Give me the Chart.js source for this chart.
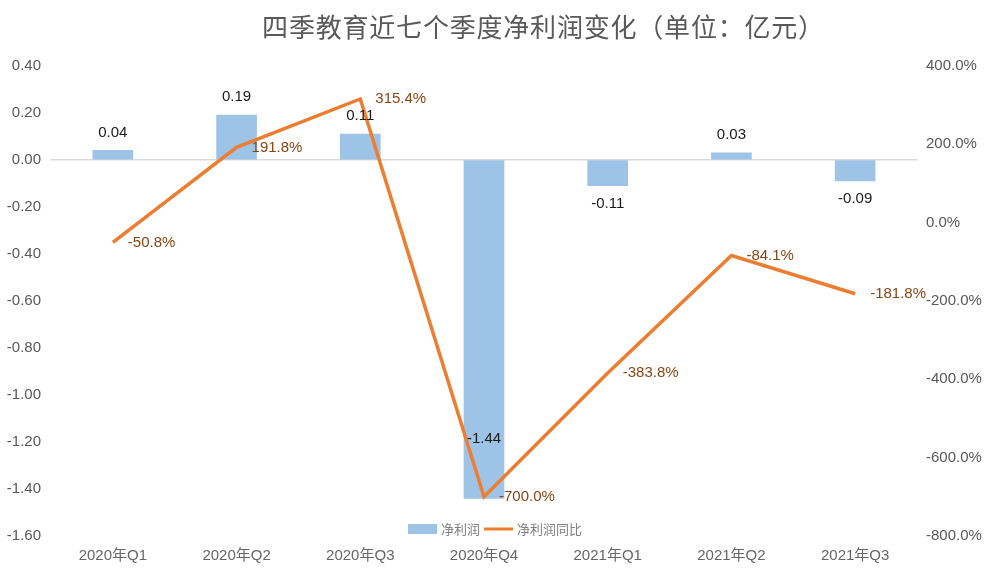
<!DOCTYPE html>
<html>
<head>
<meta charset="utf-8">
<script src="https://cdn.jsdelivr.net/npm/chart.js@4.4.0/dist/chart.umd.min.js"></script>
<style>
  html, body { margin: 0; padding: 0; background: #fff; }
  #wrap { width: 995px; height: 582px; position: relative; }
</style>
</head>
<body>
<div id="wrap"><canvas id="profit-chart"></canvas></div>
<script>
// data
const quarters = ["2020年Q1", "2020年Q2", "2020年Q3", "2020年Q4", "2021年Q1", "2021年Q2", "2021年Q3"];
const netProfit = [0.04, 0.19, 0.11, -1.44, -0.11, 0.03, -0.09];
const yoyGrowth = [-50.8, 191.8, 315.4, -700.0, -383.8, -84.1, -181.8];
const profitTicks = [0.4, 0.2, 0, -0.2, -0.4, -0.6, -0.8, -1.0, -1.2, -1.4, -1.6];
const growthTicks = [400, 200, 0, -200, -400, -600, -800];
const chartTitle = '四季教育近七个季度净利润变化（单位：亿元）';

const latinFont = "'Liberation Sans', Arial, 'Noto Sans CJK SC', sans-serif";
const cjkFont = "'Noto Sans CJK SC', sans-serif";

// title sits a bit right of the canvas centre in the original
const titlePlugin = {
    id: 'offsetTitle',
    afterDraw(chart) {
        const ctx = chart.ctx;
        ctx.save();
        ctx.font = "26px " + cjkFont;
        ctx.letterSpacing = '0.8px';
        ctx.fillStyle = '#595959';
        ctx.textAlign = 'center';
        ctx.textBaseline = 'middle';
        ctx.fillText(chartTitle, chart.width / 2 + 46, 27);
        ctx.restore();
    }
};

// value labels for bars and line points
const labelPlugin = {
    id: 'valueLabels',
    afterDatasetsDraw(chart) {
        const ctx = chart.ctx;
        ctx.save();
        ctx.font = "15px " + latinFont;
        ctx.textBaseline = 'middle';

        // bar labels
        const bars = chart.getDatasetMeta(1).data;
        ctx.fillStyle = '#1a1a1a';
        ctx.textAlign = 'center';
        bars.forEach((bar, i) => {
            const v = netProfit[i];
            let y;
            if (v >= 0) {
                y = bar.y - 18;
            } else if (Math.abs(bar.y - bar.base) > 200) {
                y = bar.y - 60; // long bar: label sits inside
            } else {
                y = bar.y + 18;
            }
            ctx.fillText(v.toFixed(2), bar.x, y);
        });

        // line labels
        const pts = chart.getDatasetMeta(0).data;
        ctx.fillStyle = '#8B4513';
        ctx.textAlign = 'left';
        pts.forEach((p, i) => {
            ctx.fillText(yoyGrowth[i].toFixed(1) + '%', p.x + 15, p.y);
        });
        ctx.restore();
    }
};

// legend drawn inside the plot, near the bottom
const legendPlugin = {
    id: 'innerLegend',
    afterDraw(chart) {
        const ctx = chart.ctx;
        const y = chart.chartArea.bottom - 7;
        ctx.save();
        ctx.font = "13px " + cjkFont;
        ctx.textBaseline = 'middle';
        ctx.textAlign = 'left';
        let x = 408;
        ctx.fillStyle = '#9DC3E6';
        ctx.fillRect(x, y - 5, 29, 10);
        x += 33;
        ctx.fillStyle = '#7f7f7f';
        ctx.fillText('净利润', x, y);
        x += ctx.measureText('净利润').width + 4;
        ctx.strokeStyle = '#ED7D31';
        ctx.lineWidth = 3;
        ctx.beginPath();
        ctx.moveTo(x, y);
        ctx.lineTo(x + 29, y);
        ctx.stroke();
        x += 33;
        ctx.fillText('净利润同比', x, y);
        ctx.restore();
    }
};

const ctx = document.getElementById('profit-chart').getContext('2d');
const chart = new Chart(ctx, {
    data: {
        labels: quarters,
        datasets: [
            {
                type: 'line',
                label: '净利润同比',
                data: yoyGrowth,
                yAxisID: 'y1',
                borderColor: '#ED7D31',
                borderWidth: 3.5,
                pointRadius: 0,
                tension: 0,
                order: 0
            },
            {
                type: 'bar',
                label: '净利润',
                data: netProfit,
                yAxisID: 'y',
                backgroundColor: '#9DC3E6',
                barThickness: 40,
                order: 1
            }
        ]
    },
    options: {
        responsive: true,
        maintainAspectRatio: false,
        animation: false,
        layout: { padding: 0 },
        plugins: {
            legend: { display: false },
            tooltip: { enabled: false },
            title: {
                // only reserves the space, text is drawn by titlePlugin
                display: true,
                text: chartTitle,
                color: 'rgba(0,0,0,0)',
                font: { family: cjkFont, size: 24, weight: 'normal', lineHeight: 1.2 },
                padding: { top: 13, bottom: 24 }
            }
        },
        scales: {
            x: {
                grid: { display: false, drawTicks: false },
                border: { display: false },
                ticks: {
                    color: '#666666',
                    font: { family: latinFont, size: 15 },
                    padding: 11
                },
                afterFit(scale) { scale.height = 46; }
            },
            y: {
                position: 'left',
                min: -1.6,
                max: 0.4,
                afterBuildTicks(scale) {
                    scale.ticks = profitTicks.map(v => ({ value: v }));
                },
                ticks: {
                    color: '#595959',
                    font: { family: latinFont, size: 15 },
                    padding: 10,
                    callback: v => v.toFixed(2)
                },
                grid: {
                    drawTicks: false,
                    lineWidth: 1.5,
                    color: c => (c.tick && c.tick.value === 0) ? '#d9d9d9' : 'rgba(0,0,0,0)'
                },
                border: { display: false },
                afterFit(scale) { scale.width = 51; }
            },
            y1: {
                position: 'right',
                min: -800,
                max: 400,
                afterBuildTicks(scale) {
                    scale.ticks = growthTicks.map(v => ({ value: v }));
                },
                ticks: {
                    color: '#595959',
                    font: { family: latinFont, size: 15 },
                    padding: 9,
                    callback: v => v.toFixed(1) + '%'
                },
                grid: { display: false, drawTicks: false },
                border: { display: false },
                afterFit(scale) { scale.width = 78; }
            }
        }
    },
    plugins: [labelPlugin, legendPlugin, titlePlugin]
});
</script>
</body>
</html>
